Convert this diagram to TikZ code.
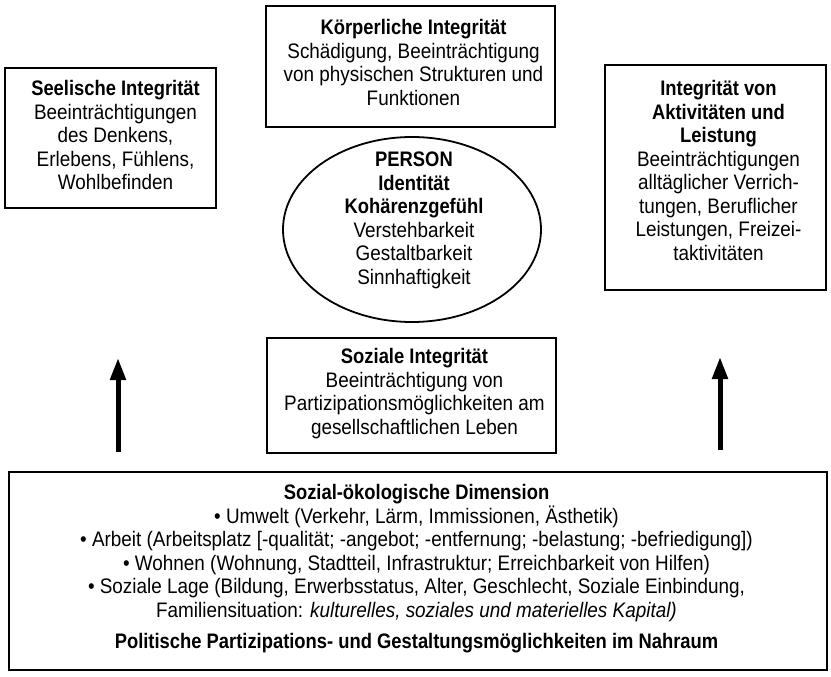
\documentclass[tikz,border=0pt]{standalone}
\usepackage{fontspec}
\setmainfont{Liberation Sans}[FakeStretch=0.9,BoldFeatures={FakeStretch=0.875}]
\usetikzlibrary{arrows.meta,shapes.geometric}
\begin{document}
\begin{tikzpicture}[x=1pt,y=-1pt,
  frame/.style={draw,line width=1.8pt,rectangle,inner sep=0pt},
  label/.style={inner sep=0pt,align=center,font=\fontsize{21}{23.5}\selectfont},
  bigarrow/.style={line width=5pt,-{Triangle[length=22pt,width=15pt]}}]
\useasboundingbox (0,0) rectangle (831,677);
% boxes
\node[frame,minimum width=211pt,minimum height=140pt] (seele) at (110.5,138) {};
\node[frame,minimum width=289pt,minimum height=121pt] (koerper) at (410.5,66.5) {};
\node[frame,minimum width=221pt,minimum height=225pt] (aktiv) at (715.5,177.5) {};
\node[frame,ellipse,minimum width=258pt,minimum height=185pt] (person) at (412,229.5) {};
\node[frame,minimum width=289pt,minimum height=115pt] (sozial) at (411.5,395.5) {};
\node[frame,minimum width=818pt,minimum height=198pt] (umwelt) at (418,571) {};
% texts
\node[label] (seele-t) at ([xshift=5pt,yshift=3pt]seele.center)
  {\textbf{Seelische Integrität}\\Beeinträchtigungen\\des Denkens,\\Erlebens, Fühlens,\\Wohlbefinden};
\node[label] (koerper-t) at ([xshift=3pt,yshift=4pt]koerper.center)
  {\textbf{Körperliche Integrität}\\Schädigung, Beeinträchtigung\\von physischen Strukturen und\\Funktionen};
\node[label] (aktiv-t) at ([xshift=3pt,yshift=7pt]aktiv.center)
  {\textbf{Integrität von}\\\textbf{Aktivitäten und}\\\textbf{Leistung}\\Beeinträchtigungen\\alltäglicher Verrich-\\tungen, Beruflicher\\Leistungen, Freizei-\\taktivitäten};
\node[label] (person-t) at ([xshift=2pt,yshift=9pt]person.center)
  {\textbf{PERSON}\\\textbf{Identität}\\\textbf{Kohärenzgefühl}\\Verstehbarkeit\\Gestaltbarkeit\\Sinnhaftigkeit};
\node[label] (sozial-t) at ([xshift=3pt,yshift=2pt]sozial.center)
  {\textbf{Soziale Integrität}\\Beeinträchtigung von\\Partizipationsmöglichkeiten am\\gesellschaftlichen Leben};
\node[label] (umwelt-t) at (416.5,569)
  {\textbf{Sozial-ökologische Dimension}\\
   • Umwelt (Verkehr, Lärm, Immissionen, Ästhetik)\\
   • Arbeit (Arbeitsplatz [-qualität; -angebot; -entfernung; -belastung; -befriedigung])\\
   • Wohnen (Wohnung, Stadtteil, Infrastruktur; Erreichbarkeit von Hilfen)\\
   • Soziale Lage (Bildung, Erwerbsstatus, Alter, Geschlecht, Soziale Einbindung,\\
   Familiensituation: \textit{kulturelles, soziales und materielles Kapital)}\\[8pt]
   \textbf{Politische Partizipations- und Gestaltungsmöglichkeiten im Nahraum}};
% arrows
\coordinate (la0) at (118,452);
\coordinate (la1) at (118,358);
\coordinate (ra0) at (720,450);
\coordinate (ra1) at (720,357);
\draw[bigarrow] (la0) -- (la1);
\draw[bigarrow] (ra0) -- (ra1);
\end{tikzpicture}
\end{document}
